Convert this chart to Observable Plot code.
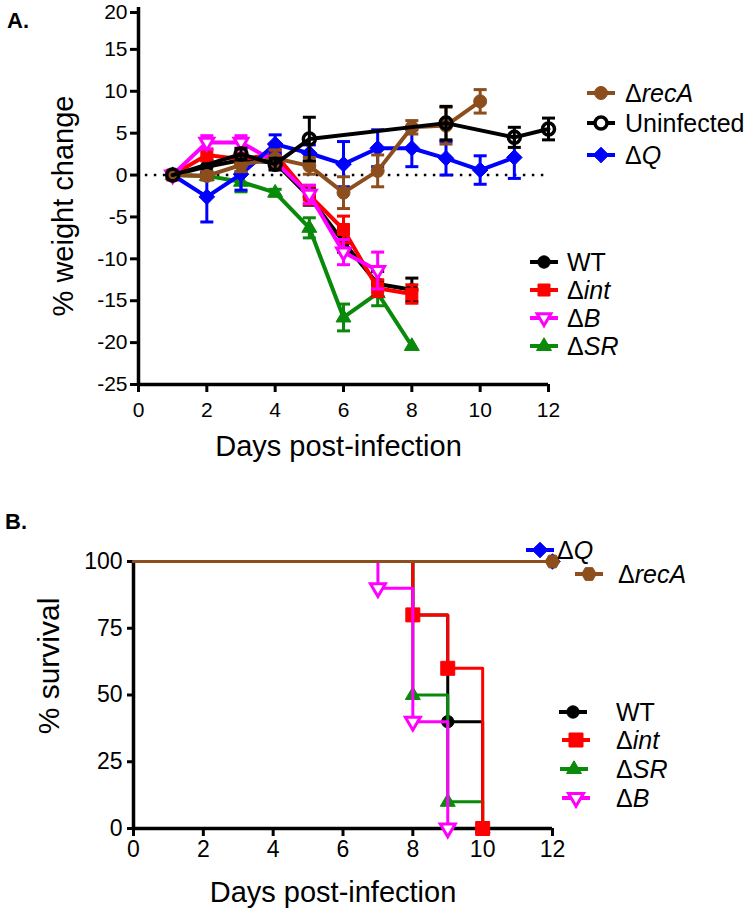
<!DOCTYPE html>
<html><head><meta charset="utf-8">
<script src="https://cdn.jsdelivr.net/npm/d3@7"></script>
<script src="https://cdn.jsdelivr.net/npm/@observablehq/plot@0.6"></script>
<style>
body{margin:0;background:#fff;}
#fig{position:relative;width:750px;height:923px;overflow:hidden;font-family:"Liberation Sans",Arial,sans-serif;color:#000;background:#fff;}
.plot{position:absolute;left:0;}
.panel{position:absolute;font-weight:bold;font-size:22px;line-height:1;transform:translateY(-50%);}
.legsym{position:absolute;transform:translate(-50%,-50%);}
.legtxt{position:absolute;font-size:25px;line-height:1;white-space:nowrap;transform:translateY(-50%);}
</style></head>
<body><div id="fig"></div>
<script>
// ---------- Panel A: % weight change ----------
const uninfDays = [1,3,4,5,9,11,12];
const uninfWeight = [0,2.5,1.3,4.3,6.2,4.5,5.5];
const uninfErr = [0,0.7,0.7,2.6,2.0,1.2,1.3];

const qDays = [1,2,3,4,5,6,7,8,9,10,11];
const qWeight = [0,-2.6,0.1,3.7,2.6,1.3,3.2,3.2,2.0,0.6,2.1];
const qErr = [0,3.0,1.9,1.1,1.0,2.7,2.2,2.2,2.0,1.7,2.5];

const recADays = [1,2,3,4,5,6,7,8,9,10];
const recAWeight = [0,-0.1,1.2,2.0,1.1,-2.1,0.5,5.7,5.9,8.8];
const recAErr = [0,0.5,0.8,1.0,1.0,1.9,1.9,0.8,2.2,1.4];

const wtDays = [1,2,3,4,5,6,7,8];
const wtWeight = [0,1.0,1.8,1.5,-2.6,-8.0,-13.0,-13.7];
const wtErr = [0,0.8,0.8,0.8,1.0,1.2,1.5,1.4];

const intDays = [1,2,3,4,5,6,7,8];
const intWeight = [0,2.4,1.9,2.5,-2.4,-6.5,-13.5,-14.2];
const intErr = [0,0.7,0.7,1.0,1.1,1.6,1.0,1.1];

const bDays = [1,2,3,4,5,6,7];
const bWeight = [0,3.9,3.9,1.6,-2.3,-9.2,-11.4];
const bErr = [0,0.8,0.8,0.8,1.1,1.5,2.2];

const srDays = [1,2,3,4,5,6,7,8];
const srWeight = [0,-0.1,-0.8,-2.1,-6.3,-17.0,-14.1,-20.4];
const srErr = [0,0.4,1.2,0.4,1.2,1.6,1.5,0];

const weightTicksTop = [20];
const weightTicksY = [15,10,5,0,-5,-10,-15,-20,-25];
const dayTicks = [0,2,4,6,8,10,12];

// ---------- Panel B: % survival ----------
const survQDays = [0,12], survQ = [100,100];
const survRecADays = [0,12], survRecA = [100,100];
const survWTDays = [0,8,9,10], survWT = [100,80,40,0];
const survIntDays = [0,8,9,10], survInt = [100,80,60,0];
const survSRDays = [0,8,9,10], survSR = [100,50,10,0];
const survBDays = [0,7,8,9], survB = [100,90,40,0];
const survTicksY = [0,25,50,75,100];

// colours
const BROWN = "#8C4E1C", BLUE = "#0000FF", RED = "#FF0000", MAGENTA = "#FF00FF", GREEN = "#0A8A0A", BLACK = "#000000";

// custom symbols
const rOf = s => Math.sqrt(s / Math.PI);
const symCap = {draw(c){ c.moveTo(-6.5,0); c.lineTo(6.5,0); }};
const symCircle = {draw(c,s){ const r=rOf(s); c.moveTo(r,0); c.arc(0,0,r,0,2*Math.PI); c.closePath(); }};
const symSquare = {draw(c,s){ const r=rOf(s); c.rect(-r,-r,2*r,2*r); }};
const symUp = {draw(c,s){ const h=rOf(s)*1.15; c.moveTo(-h,h*0.6); c.lineTo(h,h*0.6); c.lineTo(0,-h*1.1); c.closePath(); }};
const symDown = {draw(c,s){ const h=rOf(s)*1.15; c.moveTo(-h,-h*0.6); c.lineTo(h,-h*0.6); c.lineTo(0,h*1.1); c.closePath(); }};
const symDiamond = {draw(c,s){ const h=rOf(s)*1.2; c.moveTo(0,-h); c.lineTo(h,0); c.lineTo(0,h); c.lineTo(-h,0); c.closePath(); }};
const symHex = {draw(c,s){ const r=rOf(s)*1.05; for(let i=0;i<6;i++){ const a=Math.PI/3*i; const x=r*Math.cos(a), y=r*Math.sin(a); i?c.lineTo(x,y):c.moveTo(x,y);} c.closePath(); }};

function rows(days, w, e){ return days.map((d,i)=>({day:d, w:w[i], e:e?e[i]:0})); }

function weightSeries(days, w, e, color, sym, r, fill, sw){
  const data = rows(days, w, e);
  const withErr = data.filter(d=>d.e>0);
  const caps = withErr.flatMap(d=>[{day:d.day,y:d.w-d.e},{day:d.day,y:d.w+d.e}]);
  return [
    Plot.ruleX(withErr, {x:"day", y1:d=>d.w-d.e, y2:d=>d.w+d.e, stroke:color, strokeWidth:3}),
    Plot.dot(caps, {x:"day", y:"y", symbol:symCap, r:5, fill:"none", stroke:color, strokeWidth:3}),
    Plot.line(data, {x:"day", y:"w", stroke:color, strokeWidth:4}),
    Plot.dot(data, {x:"day", y:"w", symbol:sym, r:r, fill:fill, stroke:color, strokeWidth:sw})
  ];
}

const fig = document.getElementById("fig");
const FONT = '"Liberation Sans", Arial, sans-serif';

const plotA = Plot.plot({
  width: 750, height: 470,
  marginLeft: 138, marginRight: 202, marginTop: 7, marginBottom: 86,
  x: {domain:[0,12]},
  y: {domain:[-25,20]},
  style: {fontFamily: FONT, fontSize: "20px", color: "#000", background: "transparent", overflow: "visible"},
  marks: [
    Plot.ruleY([0], {x1:0.2, x2:12, stroke:BLACK, strokeWidth:2.5, strokeDasharray:"2.5,6.5"}),
    ...weightSeries(srDays, srWeight, srErr, GREEN, symUp, 6.5, GREEN, 1),
    ...weightSeries(wtDays, wtWeight, wtErr, BLACK, symCircle, 6.2, BLACK, 1),
    ...weightSeries(intDays, intWeight, intErr, RED, symSquare, 6, RED, 1),
    ...weightSeries(bDays, bWeight, bErr, MAGENTA, symDown, 6, "white", 3),
    ...weightSeries(qDays, qWeight, qErr, BLUE, symDiamond, 6.5, BLUE, 1),
    ...weightSeries(recADays, recAWeight, recAErr, BROWN, symCircle, 6.5, BROWN, 1),
    ...weightSeries(uninfDays, uninfWeight, uninfErr, BLACK, symCircle, 6, "none", 3.5),
    Plot.axisX({ticks: dayTicks, tickSize: 8, strokeWidth: 3, tickPadding: 10, label: null, fontSize: 21}),
    Plot.axisY({ticks: weightTicksY, tickSize: 8, strokeWidth: 3, tickPadding: 3, label: null, fontSize: 21, tickFormat: d => String(d)}),
    Plot.axisY({ticks: weightTicksTop, tickSize: 8, strokeWidth: 3, tickPadding: 3, label: null, fontSize: 21, tickFormat: d => String(d), dy: 5}),
    Plot.ruleX([0], {y1:-25, y2:20, stroke:BLACK, strokeWidth:3.5}),
    Plot.ruleY([-25], {x1:0, x2:12, stroke:BLACK, strokeWidth:3.5}),
    Plot.text(["% weight change"], {frameAnchor:"left", textAnchor:"middle", lineAnchor:"top", rotate:-90, dx:-86, dy:10, fontSize:29, fill:BLACK}),
    Plot.text(["Days post-infection"], {frameAnchor:"bottom", dx:-5, dy:71, fontSize:29, fill:BLACK})
  ]
});
plotA.classList.add("plot");
plotA.style.top = "0px";
fig.appendChild(plotA);

function survSeries(days, s, color, sym, r, fill, sw, lw, markIdx){
  const data = rows(days, s);
  const pts = data.filter((d,i)=>markIdx(i, data.length));
  return [
    Plot.line(data, {x:"day", y:"w", curve:"step-after", stroke:color, strokeWidth:lw}),
    Plot.dot(pts, {x:"day", y:"w", symbol:sym, r:r, fill:fill, stroke:color, strokeWidth:sw})
  ];
}
const afterFirst = i => i > 0;
const lastOnly = (i,n) => i === n-1;

const TOPB = 500;
const plotB = Plot.plot({
  width: 750, height: 423,
  marginLeft: 133, marginRight: 198, marginTop: 61, marginBottom: 95,
  x: {domain:[0,12]},
  y: {domain:[0,100]},
  style: {fontFamily: FONT, fontSize: "22px", color: "#000", background: "transparent", overflow: "visible"},
  marks: [
    Plot.axisX({ticks: dayTicks, tickSize: 8, strokeWidth: 3, tickPadding: 4, label: null, fontSize: 23}),
    Plot.axisY({ticks: survTicksY, tickSize: 6, strokeWidth: 3, tickPadding: 5, label: null, fontSize: 23}),
    Plot.ruleX([0], {y1:0, y2:100, stroke:BLACK, strokeWidth:3.5}),
    Plot.ruleY([0], {x1:0, x2:12, stroke:BLACK, strokeWidth:3.5}),
    ...survSeries(survWTDays, survWT, BLACK, symCircle, 6.2, BLACK, 1, 3, afterFirst),
    ...survSeries(survSRDays, survSR, GREEN, symUp, 6.5, GREEN, 1, 3, afterFirst),
    ...survSeries(survIntDays, survInt, RED, symSquare, 7, RED, 1, 3, afterFirst),
    ...survSeries(survBDays, survB, MAGENTA, symDown, 6.5, "white", 3, 3, afterFirst),
    ...survSeries(survQDays, survQ, BLUE, symDiamond, 6.5, BLUE, 1, 3, lastOnly),
    ...survSeries(survRecADays, survRecA, BROWN, symHex, 7, BROWN, 1, 3.2, lastOnly),
    Plot.text(["% survival"], {frameAnchor:"left", textAnchor:"middle", lineAnchor:"top", rotate:-90, dx:-96, dy:-29, fontSize:30, fill:BLACK}),
    Plot.text(["Days post-infection"], {frameAnchor:"bottom", dx:-10, dy:73, fontSize:29, fill:BLACK})
  ]
});
plotB.classList.add("plot");
plotB.style.top = TOPB + "px";
fig.appendChild(plotB);

// ---------- panel labels ----------
function addLabel(txt, x, y){
  const d = document.createElement("div");
  d.className = "panel"; d.textContent = txt;
  d.style.left = x + "px"; d.style.top = y + "px";
  fig.appendChild(d);
}
addLabel("A.", 7, 21);
addLabel("B.", 5, 522);

// ---------- legends ----------
const legendNames = ["Δ<i>recA</i>","Uninfected","Δ<i>Q</i>","WT","Δ<i>int</i>","Δ<i>B</i>","Δ<i>SR</i>"];
function legendRow(html, color, sym, r, fill, sw, cx, cy, tx){
  const w = 30, h = 22;
  const svg = d3.create("svg").attr("width", w).attr("height", h).attr("class","legsym")
    .style("left", cx + "px").style("top", cy + "px").style("overflow","visible");
  svg.append("line").attr("x1",1).attr("x2",w-1).attr("y1",h/2).attr("y2",h/2).attr("stroke",color).attr("stroke-width",4);
  svg.append("path").attr("transform",`translate(${w/2},${h/2})`)
    .attr("d", d3.symbol(sym, Math.PI*r*r)())
    .attr("fill", fill).attr("stroke", color).attr("stroke-width", sw);
  fig.appendChild(svg.node());
  const t = document.createElement("div");
  t.className = "legtxt"; t.innerHTML = html;
  t.style.left = tx + "px"; t.style.top = cy + "px";
  fig.appendChild(t);
}
// Panel A legends
legendRow(legendNames[0], BROWN, symCircle, 6.5, BROWN, 1, 601, 93, 625);
legendRow(legendNames[1], BLACK, symCircle, 6, "white", 3.5, 601, 123, 625);
legendRow(legendNames[2], BLUE, symDiamond, 6.5, BLUE, 1, 601, 155, 625);
legendRow(legendNames[3], BLACK, symCircle, 6.2, BLACK, 1, 544, 262, 567);
legendRow(legendNames[4], RED, symSquare, 6, RED, 1, 544, 290, 567);
legendRow(legendNames[5], MAGENTA, symDown, 6, "white", 3, 544, 318, 567);
legendRow(legendNames[6], GREEN, symUp, 6.5, GREEN, 1, 544, 346, 567);
// Panel B legends
legendRow(legendNames[2], BLUE, symDiamond, 6.5, BLUE, 1, 540, 550, 557);
legendRow(legendNames[0], BROWN, symHex, 7, BROWN, 1, 589, 574, 618);
legendRow(legendNames[3], BLACK, symCircle, 6.2, BLACK, 1, 573, 712, 616);
legendRow(legendNames[4], RED, symSquare, 7, RED, 1, 576, 740, 616);
legendRow(legendNames[6], GREEN, symUp, 6.5, GREEN, 1, 574, 769, 616);
legendRow(legendNames[5], MAGENTA, symDown, 6.5, "white", 3, 576, 798, 616);
</script>
</body></html>
